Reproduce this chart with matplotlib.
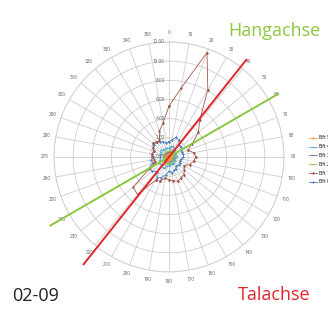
"""Windrose (Excel-Radar) mit Hang- und Talachse, 02-09"""
import numpy as np
import matplotlib
matplotlib.use('Agg')
import matplotlib.pyplot as plt

plt.rcParams['font.family'] = ['Open Sans', 'DejaVu Sans']

# ── Daten ─────────────────────────────────────────────
angles = np.arange(0, 360, 10)           # Richtung in Grad
r_ticks = [0, 2, 4, 6, 8, 10, 12]

bft0 = [1.6, 1.8, 2.2, 2.0, 1.7, 1.6, 1.5, 1.4, 1.5, 1.5, 1.3, 1.2,
        1.3, 1.3, 1.2, 1.4, 1.5, 1.7, 1.5, 1.9, 2.3, 2.5, 2.0, 2.3,
        2.5, 1.8, 1.9, 1.6, 1.8, 1.7, 1.9, 2.0, 2.1, 1.8, 1.7, 1.5]
bft1 = [5.3, 7.3, 11.6, 8.1, 5.0, 4.0, 2.8, 2.1, 2.6, 2.8, 2.6, 2.3,
        1.8, 2.1, 2.4, 2.5, 2.7, 2.5, 2.4, 2.2, 2.7, 2.8, 5.1, 4.9,
        2.3, 1.5, 1.6, 1.8, 1.8, 1.7, 1.9, 2.2, 2.0, 2.0, 2.9, 3.6]
bft2 = [0.6, 0.7, 0.8, 0.7, 0.6, 0.5, 0.5, 0.5, 0.5, 0.5, 0.4, 0.4,
        0.5, 0.4, 0.5, 0.5, 0.5, 0.6, 0.6, 0.6, 0.7, 0.8, 0.7, 0.6,
        0.6, 0.5, 0.5, 0.5, 0.5, 0.5, 0.6, 0.6, 0.6, 0.6, 0.5, 0.6]
bft3 = [0.4, 0.5, 0.5, 0.5, 0.4, 0.3, 0.3, 0.3, 0.4, 0.3, 0.3, 0.3,
        0.3, 0.3, 0.3, 0.4, 0.3, 0.4, 0.4, 0.4, 0.5, 0.5, 0.5, 0.4,
        0.4, 0.4, 0.3, 0.3, 0.4, 0.3, 0.4, 0.4, 0.4, 0.4, 0.4, 0.4]
bft4 = [0.9, 1.1, 1.2, 1.0, 0.9, 0.8, 0.8, 0.7, 0.8, 0.7, 0.6, 0.6,
        0.7, 0.7, 0.8, 0.8, 0.8, 0.9, 0.9, 1.0, 1.2, 1.3, 1.1, 1.2,
        1.2, 1.0, 0.9, 0.9, 0.9, 0.9, 1.0, 1.1, 1.0, 0.9, 1.0, 0.9]
bft5 = [0.3, 0.3, 0.4, 0.3, 0.3, 0.2, 0.2, 0.2, 0.3, 0.2, 0.2, 0.2,
        0.2, 0.2, 0.3, 0.3, 0.2, 0.3, 0.3, 0.3, 0.3, 0.4, 0.3, 0.3,
        0.3, 0.3, 0.2, 0.2, 0.3, 0.2, 0.3, 0.3, 0.3, 0.3, 0.3, 0.3]

series = [('Bft 0', bft0, '#4F81BD', 'D'),
          ('Bft 1', bft1, '#A8564C', 's'),
          ('Bft 2', bft2, '#9BBB59', '^'),
          ('Bft 3', bft3, '#8064A2', 'x'),
          ('Bft 4', bft4, '#4BACC6', '*'),
          ('Bft 5', bft5, '#F79646', 'o')]

# Achsen: (Richtung, Länge nach außen, Länge Gegenrichtung)
hang_dir, hang_len = 60, (13.15, 14.3)
tal_dir, tal_len = 38.5, (12.95, 14.3)

GRID = '#CDCDCD'
LBL = '#595959'

fig = plt.figure(figsize=(3.28, 3.18), dpi=100)
ax = fig.add_axes([0.1646, 0.1447, 0.7012, 0.7233], projection='polar')
ax.set_theta_zero_location('N')
ax.set_theta_direction(-1)
ax.set_ylim(0, 12)

ax.set_xticks(np.deg2rad(angles))
ax.set_xticklabels([])
ax.set_yticks(r_ticks[1:])
ax.set_yticklabels([])
ax.grid(color=GRID, lw=0.6)
ax.spines['polar'].set_color(GRID)
ax.spines['polar'].set_linewidth(0.6)

th = np.deg2rad(np.append(angles, angles[0]))
handles = []
for name, vals, c, m in series:
    v = np.append(vals, vals[0])
    ln, = ax.plot(th, v, color=c, lw=0.6, marker=m, ms=1.1, mew=0.3, label=name)
    handles.append(ln)

# Richtungsbeschriftung
for a in angles:
    ax.text(np.deg2rad(a), 12.95, str(a), ha='center', va='center',
            fontsize=3.3, color=LBL, clip_on=False)
# Werte-Achse
for r in r_ticks:
    ax.annotate(f'{r:.2f}', xy=(0, r), xytext=(-3, 0), textcoords='offset points',
                ha='right', va='center', fontsize=3.3, color=LBL)

# Hang- und Talachse
for d, (l1, l2), c in [(hang_dir, hang_len, '#8CC63F'), (tal_dir, tal_len, '#E3242B')]:
    ax.plot(np.deg2rad([d, d]), [0, l1], color=c, lw=1.4, clip_on=False, zorder=5)
    ax.plot(np.deg2rad([d + 180, d + 180]), [0, l2], color=c, lw=1.4,
            clip_on=False, zorder=5)

fig.legend(handles[::-1], [h.get_label() for h in handles[::-1]],
           loc='upper left', bbox_to_anchor=(0.942, 0.574), frameon=False,
           fontsize=3.5, handlelength=1.65, handletextpad=0.4,
           labelspacing=0.78, borderpad=0, borderaxespad=0)

fig.text(0.695, 0.902, 'Hangachse', fontsize=13, color='#8DC63F', va='center')
fig.text(0.725, 0.072, 'Talachse', fontsize=13, color='#E3242B', va='center')
fig.text(0.037, 0.069, '02-09', fontsize=13, color='#222222', va='center')

fig.savefig('out.png', dpi=100)
